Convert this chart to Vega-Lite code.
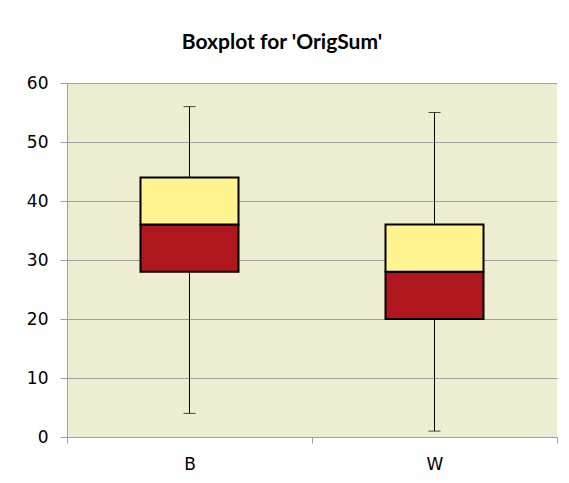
{
  "$schema": "https://vega.github.io/schema/vega-lite/v6.json",
  "autosize": "none",
  "width": 490,
  "height": 354,
  "padding": {"left": 67, "top": 83, "right": 12, "bottom": 46},
  "background": "white",
  "title": {
    "text": "Boxplot for 'OrigSum'",
    "font": "Lato",
    "fontSize": 21,
    "fontWeight": "bold",
    "color": "#000000",
    "anchor": "middle",
    "frame": "group",
    "dx": -30,
    "offset": 21
  },
  "data": {
    "values": [
      {"cat": "B", "min": 4, "q1": 28, "median": 36, "q3": 44, "max": 56},
      {"cat": "W", "min": 1, "q1": 20, "median": 28, "q3": 36, "max": 55}
    ]
  },
  "encoding": {
    "x": {
      "field": "cat",
      "type": "nominal",
      "scale": {"paddingInner": 0, "paddingOuter": 0},
      "axis": {
        "title": null,
        "labelAngle": 0,
        "labelFont": "DejaVu Sans",
        "labelFontSize": 17,
        "labelColor": "#000000",
        "labelPadding": 13,
        "tickBand": "extent",
        "tickSize": 6,
        "tickColor": "#A0A0A0",
        "domainColor": "#A0A0A0",
        "grid": false
      }
    }
  },
  "layer": [
    {
      "mark": {"type": "rule", "color": "#000000", "strokeWidth": 1},
      "encoding": {
        "y": {
          "field": "min",
          "type": "quantitative",
          "scale": {"domain": [0, 60], "nice": false},
          "axis": {
            "title": null,
            "values": [0, 10, 20, 30, 40, 50, 60],
            "labelFont": "DejaVu Sans",
            "labelFontSize": 17,
            "labelColor": "#000000",
            "labelPadding": 12,
            "tickSize": 7,
            "tickColor": "#A0A0A0",
            "domainColor": "#A0A0A0",
            "gridColor": "#A0A0A0",
            "gridWidth": 1
          }
        },
        "y2": {"field": "max"}
      }
    },
    {
      "mark": {"type": "tick", "orient": "horizontal", "color": "#000000", "size": 12, "thickness": 1},
      "encoding": {"y": {"field": "min", "type": "quantitative"}}
    },
    {
      "mark": {"type": "tick", "orient": "horizontal", "color": "#000000", "size": 12, "thickness": 1},
      "encoding": {"y": {"field": "max", "type": "quantitative"}}
    },
    {
      "mark": {"type": "bar", "size": 98, "fill": "#B0161E", "stroke": "#000000", "strokeWidth": 2},
      "encoding": {
        "y": {"field": "q1", "type": "quantitative"},
        "y2": {"field": "median"}
      }
    },
    {
      "mark": {"type": "bar", "size": 98, "fill": "#FFF48F", "stroke": "#000000", "strokeWidth": 2},
      "encoding": {
        "y": {"field": "median", "type": "quantitative"},
        "y2": {"field": "q3"}
      }
    }
  ],
  "config": {
    "view": {"fill": "#EDEDD1", "stroke": null}
  }
}
